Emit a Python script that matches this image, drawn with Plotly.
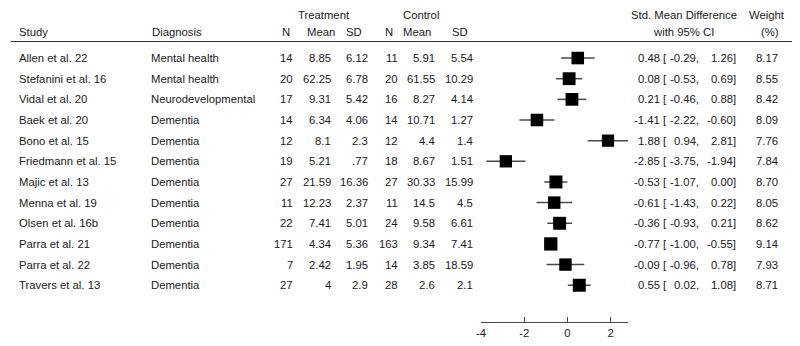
import plotly.graph_objects as go

# ---------------- data ----------------
studies = ["Allen et al. 22", "Stefanini et al. 16", "Vidal et al. 20", "Baek et al. 20",
           "Bono et al. 15", "Friedmann et al. 15", "Majic et al. 13", "Menna et al. 19",
           "Olsen et al. 16b", "Parra et al. 21", "Parra et al. 22", "Travers et al. 13"]
diagnosis = ["Mental health", "Mental health", "Neurodevelopmental", "Dementia", "Dementia",
             "Dementia", "Dementia", "Dementia", "Dementia", "Dementia", "Dementia", "Dementia"]
t_n = [14, 20, 17, 14, 12, 19, 27, 11, 22, 171, 7, 27]
t_mean = ["8.85", "62.25", "9.31", "6.34", "8.1", "5.21", "21.59", "12.23", "7.41", "4.34", "2.42", "4"]
t_sd = ["6.12", "6.78", "5.42", "4.06", "2.3", ".77", "16.36", "2.37", "5.01", "5.36", "1.95", "2.9"]
c_n = [11, 20, 16, 14, 12, 18, 27, 11, 24, 163, 14, 28]
c_mean = ["5.91", "61.55", "8.27", "10.71", "4.4", "8.67", "30.33", "14.5", "9.58", "9.34", "3.85", "2.6"]
c_sd = ["5.54", "10.29", "4.14", "1.27", "1.4", "1.51", "15.99", "4.5", "6.61", "7.41", "18.59", "2.1"]
smd = [0.48, 0.08, 0.21, -1.41, 1.88, -2.85, -0.53, -0.61, -0.36, -0.77, -0.09, 0.55]
ci_lo = [-0.29, -0.53, -0.46, -2.22, 0.94, -3.75, -1.07, -1.43, -0.93, -1.00, -0.96, 0.02]
ci_hi = [1.26, 0.69, 0.88, -0.60, 2.81, -1.94, 0.00, 0.22, 0.21, -0.55, 0.78, 1.08]
weight = [8.17, 8.55, 8.42, 8.09, 7.76, 7.84, 8.70, 8.05, 8.62, 9.14, 7.93, 8.71]
tick_vals = [-4, -2, 0, 2]
tick_text = ["-4", "-2", "0", "2"]

# ---------------- layout helpers ----------------
W, H = 800, 346
FONT = "Liberation Sans, Arial, Helvetica, sans-serif"
TXT = "#1a1a1a"
FS = 11.3


def px(x):
    return x / W


def py(y):
    return 1 - y / H


rows = list(range(len(studies)))

# CI lines (built from the data, drawn beneath the boxes)
ci_x, ci_y = [], []
for i in rows:
    ci_x += [ci_lo[i], ci_hi[i], None]
    ci_y += [i, i, None]

fig = go.Figure()
fig.add_trace(go.Scatter(
    x=ci_x, y=ci_y, mode="lines",
    line=dict(color="#4a4a4a", width=1.5),
    cliponaxis=False, hoverinfo="skip", showlegend=False,
))
fig.add_trace(go.Scatter(
    x=smd, y=rows, mode="markers",
    marker=dict(symbol="square", color="black", opacity=1,
                size=[4.4 * w ** 0.5 for w in weight],
                line=dict(width=0)),
    cliponaxis=False, hoverinfo="skip", showlegend=False,
))

ann = []


def add(text, x, y, anchor="left", yref="y"):
    ann.append(dict(text=text, x=px(x), xref="paper", y=y, yref=yref,
                    xanchor=anchor, yanchor="middle", showarrow=False,
                    borderpad=0, borderwidth=0,
                    font=dict(family=FONT, size=FS, color=TXT)))


for i in rows:
    add(studies[i], 14, i)
    add(diagnosis[i], 147, i)
    add(str(t_n[i]), 290, i, "right")
    add(t_mean[i], 328, i, "right")
    add(t_sd[i], 365, i, "right")
    add(str(c_n[i]), 395, i, "right")
    add(c_mean[i], 433, i, "right")
    add(c_sd[i], 471, i, "right")
    add(f"{smd[i]:.2f}", 659, i, "right")
    add("[", 662, i, "left")
    add(f"{ci_lo[i]:.2f},", 698, i, "right")
    add(f"{ci_hi[i]:.2f}]", 736, i, "right")
    add(f"{weight[i]:.2f}", 778, i, "right")

# headers
add("Treatment", 321, py(15), "center", "paper")
add("Control", 401, py(15), "left", "paper")
add("Study", 14, py(32), "left", "paper")
add("Diagnosis", 148, py(32), "left", "paper")
add("N", 283, py(32), "center", "paper")
add("Mean", 318, py(32), "center", "paper")
add("SD", 351, py(32), "center", "paper")
add("N", 386, py(32), "center", "paper")
add("Mean", 415, py(32), "center", "paper")
add("SD", 458, py(32), "center", "paper")
add("Std. Mean Difference", 683, py(15), "center", "paper")
add("with 95% CI", 683, py(32), "center", "paper")
add("Weight", 767, py(15), "center", "paper")
add("(%)", 770, py(32), "center", "paper")

fig.update_layout(
    width=W, height=H,
    margin=dict(l=0, r=0, t=0, b=0),
    paper_bgcolor="white", plot_bgcolor="white",
    font=dict(family=FONT, size=FS, color=TXT),
    annotations=ann,
    shapes=[dict(type="line", xref="paper", yref="paper",
                 x0=px(6), x1=px(792), y0=py(41.5), y1=py(41.5),
                 line=dict(color="#333333", width=1))],
    xaxis=dict(domain=[px(479), px(627)], range=[-4, 2.81],
               showline=True, linecolor="#444444", linewidth=1,
               ticks="inside", ticklen=5, tickcolor="#444444", tickwidth=1,
               tickvals=tick_vals, ticktext=tick_text,
               tickfont=dict(family=FONT, size=FS, color=TXT),
               showgrid=False, zeroline=False, fixedrange=True),
    yaxis=dict(domain=[1 - 322 / H, 1], range=[12.78, -2.81], visible=False,
               showgrid=False, zeroline=False, fixedrange=True),
)

fig.write_html("out.html", config={"displayModeBar": False},
               post_script="document.body.style.margin='0';document.body.style.padding='0';")
